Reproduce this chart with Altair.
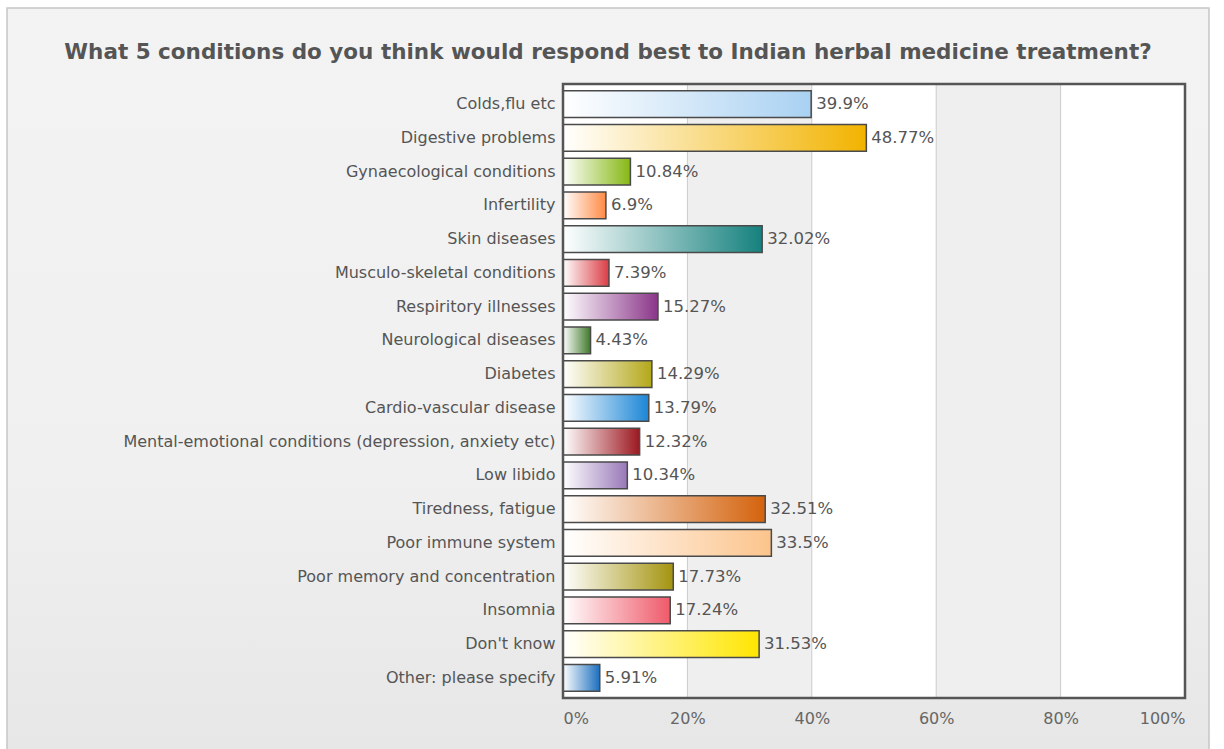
import altair as alt
import pandas as pd

title_text = "What 5 conditions do you think would respond best to Indian herbal medicine treatment?"

categories = [
    "Colds,flu etc",
    "Digestive problems",
    "Gynaecological conditions",
    "Infertility",
    "Skin diseases",
    "Musculo-skeletal conditions",
    "Respiritory illnesses",
    "Neurological diseases",
    "Diabetes",
    "Cardio-vascular disease",
    "Mental-emotional conditions (depression, anxiety etc)",
    "Low libido",
    "Tiredness, fatigue",
    "Poor immune system",
    "Poor memory and concentration",
    "Insomnia",
    "Don't know",
    "Other: please specify",
]
values = [39.9, 48.77, 10.84, 6.9, 32.02, 7.39, 15.27, 4.43, 14.29, 13.79,
          12.32, 10.34, 32.51, 33.5, 17.73, 17.24, 31.53, 5.91]
bar_colors = [
    "#a9d1f2", "#f2b300", "#86b813", "#ff8a45", "#15817e", "#db3c44",
    "#8a3589", "#3f7a2a", "#b4a81a", "#1b86d6", "#9c1820", "#9878b8",
    "#d4620c", "#fcc48c", "#a4940f", "#ef5a6a", "#ffe600", "#1c6fbe",
]
x_ticks = [0, 20, 40, 60, 80, 100]
grid_lines = [20, 40, 60, 80]
band_starts = [20, 60]
band_ends = [40, 80]

df = pd.DataFrame({"category": categories, "value": values})

xscale = alt.Scale(domain=[0, 100], nice=False)
yscale = alt.Scale(domain=categories, paddingInner=0.21, paddingOuter=0.2)

FONT = "DejaVu Sans"

x_axis = alt.Axis(title=None, values=x_ticks, labelExpr="datum.value + '%'",
                  ticks=False, domain=False, grid=False, labelPadding=12,
                  labelFontSize=16, labelColor="#666666", labelFont=FONT,
                  zindex=1)
y_axis = alt.Axis(title=None, ticks=False, domain=False, grid=False,
                  labelFontSize=16, labelColor="#555555", labelPadding=8,
                  labelLimit=700, labelFont=FONT, zindex=1)

one = pd.DataFrame({"f": [0]})

# outer decorative frame with a soft vertical gradient
frame_grad = alt.Gradient(
    gradient="linear",
    stops=[alt.GradientStop(color="#f3f3f3", offset=0),
           alt.GradientStop(color="#f0f0f0", offset=0.6),
           alt.GradientStop(color="#e6e6e6", offset=1)],
    x1=0, x2=0, y1=0, y2=1,
)
frame = alt.Chart(one).mark_rect(
    fill=frame_grad, stroke="#c6c6c6", strokeWidth=1.5
).encode(
    x=alt.value(-556), x2=alt.value(646), y=alt.value(-76), y2=alt.value(690)
)

plot_bg = alt.Chart(one).mark_rect(fill="#ffffff").encode(
    x=alt.value(0), x2=alt.value(622), y=alt.value(0), y2=alt.value(614)
)

bands = alt.Chart(pd.DataFrame({"start": band_starts, "end": band_ends})).mark_rect(
    color="#efefef"
).encode(
    x=alt.X("start:Q", scale=xscale, axis=x_axis),
    x2="end:Q",
)

grid = alt.Chart(pd.DataFrame({"g": grid_lines})).mark_rule(
    color="#cccccc", strokeWidth=1
).encode(x=alt.X("g:Q", scale=xscale))

bar_layers = []
for cat, col in zip(categories, bar_colors):
    grad = alt.Gradient(
        gradient="linear",
        stops=[alt.GradientStop(color="#ffffff", offset=0),
               alt.GradientStop(color=col, offset=1)],
        x1=0, x2=1, y1=0, y2=0,
    )
    layer = alt.Chart(df).transform_filter(
        alt.datum.category == cat
    ).mark_bar(fill=grad, stroke="#4a4a4a", strokeWidth=1.5).encode(
        x=alt.X("value:Q", scale=xscale),
        y=alt.Y("category:N", scale=yscale, axis=y_axis, sort=categories),
    )
    bar_layers.append(layer)

labels = alt.Chart(df).transform_calculate(
    label="datum.value + '%'"
).mark_text(align="left", baseline="middle", dx=5, fontSize=16.5,
            color="#555555", font=FONT).encode(
    x=alt.X("value:Q", scale=xscale),
    y=alt.Y("category:N", scale=yscale, sort=categories),
    text="label:N",
)

border = alt.Chart(one).mark_rect(
    fillOpacity=0, stroke="#555555", strokeWidth=2.5
).encode(x=alt.value(0), x2=alt.value(622), y=alt.value(0), y2=alt.value(614))

title = alt.Chart(pd.DataFrame({"t": [title_text]})).mark_text(
    fontSize=21.5, font=FONT, fontWeight="bold", color="#555555",
    align="center", baseline="middle"
).encode(x=alt.value(45), y=alt.value(-31), text="t:N")

chart = alt.layer(frame, plot_bg, bands, grid, *bar_layers, labels, border,
                  title).properties(
    width=622,
    height=614,
    padding={"left": 563, "top": 84, "right": 39, "bottom": 51},
    autosize=alt.AutoSizeParams(type="none"),
    background="#ffffff",
).configure_view(strokeWidth=0)

chart.save("out.html", embed_options={"renderer": "svg", "actions": False})
